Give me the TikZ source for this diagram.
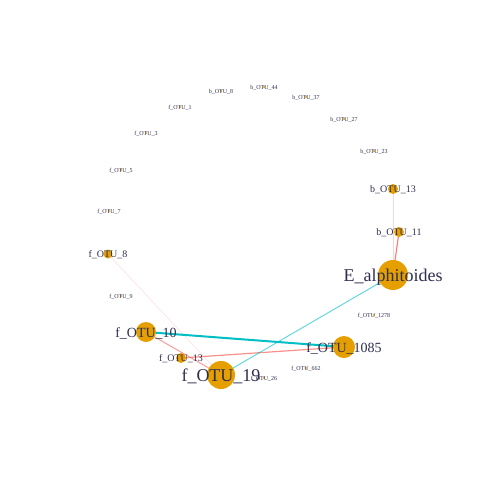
\documentclass[tikz,border=0pt]{standalone}
\usepackage{fontspec}
\setmainfont{Liberation Serif}
\usepackage{tikz}
\usetikzlibrary{backgrounds}
\definecolor{otufill}{RGB}{230,159,0}
\definecolor{posedge}{RGB}{248,118,109}
\definecolor{negedge}{RGB}{0,191,196}
\definecolor{otutext}{RGB}{46,46,80}
\tikzset{
  otu/.style={circle, fill=otufill, inner sep=0pt, minimum size=#1},
  lbl/.style={text=otutext, inner sep=0pt, anchor=base, yshift={-0.38pt*#1}, font=\fontsize{#1}{#1}\selectfont},
  pos/.style={draw=posedge, line width=#1},
  neg/.style={draw=negedge, line width=#1}
}
\begin{document}
\begin{tikzpicture}[x=1pt, y=-1pt]
	\useasboundingbox (0,0) rectangle (480,480);
	% small OTUs, no links
	\foreach \n/\px/\py/\t in {bOTU8/221/91/b\_OTU\_8, bOTU44/264/87/b\_OTU\_44, bOTU37/306/97/b\_OTU\_37,
		fOTU1/180/107/f\_OTU\_1, bOTU27/344/119/b\_OTU\_27, fOTU3/146/133/f\_OTU\_3,
		bOTU23/374/151/b\_OTU\_23, fOTU5/121/170/f\_OTU\_5, fOTU7/109/211/f\_OTU\_7,
		fOTU9/121/296/f\_OTU\_9, fOTU1278/374/315/f\_OTU\_1278, fOTU662/306/368/f\_OTU\_662,
		fOTU26/264/378/f\_OTU\_26}{
		\node[otu=2.4pt] (\n) at (\px,\py) {};
		\node[lbl=6] (l\n) at (\n) {\t};
	}
	% linked OTUs
	\node[otu=10pt] (bOTU13) at (393,189) {};
	\node[otu=10pt] (bOTU11) at (399,232) {};
	\node[otu=9pt] (fOTU8) at (108,254) {};
	\node[otu=30pt] (Ealph) at (393,275) {};
	\node[otu=20pt] (fOTU10) at (146,332) {};
	\node[otu=22pt] (fOTU1085) at (344,347) {};
	\node[otu=10pt] (fOTU13) at (181,358) {};
	\node[otu=28pt] (fOTU19) at (221,375) {};
	% links
	\begin{scope}[on background layer]
		\draw[pos=0.5pt, draw opacity=0.25] (fOTU8.center) -- (fOTU19.center);
		\draw[pos=1pt, draw opacity=0.3] (bOTU13.center) -- (Ealph.center);
		\draw[pos=1.2pt, draw opacity=0.9] (bOTU11.center) -- (Ealph.center);
		\draw[pos=1pt, draw opacity=0.7] (fOTU10.center) -- (fOTU19.center);
		\draw[pos=1.2pt, draw opacity=0.8] (fOTU13.center) -- (fOTU1085.center);
		\draw[neg=1pt, draw opacity=0.6] (Ealph.center) -- (fOTU19.center);
		\draw[neg=2pt] (fOTU10.center) -- (fOTU1085.center);
	\end{scope}
	% labels
	\node[lbl=10] (lbOTU13) at (bOTU13) {b\_OTU\_13};
	\node[lbl=10] (lbOTU11) at (bOTU11) {b\_OTU\_11};
	\node[lbl=10] (lfOTU8) at (fOTU8) {f\_OTU\_8};
	\node[lbl=18] (lEalph) at (Ealph) {E\_alphitoides};
	\node[lbl=14] (lfOTU10) at (fOTU10) {f\_OTU\_10};
	\node[lbl=14] (lfOTU1085) at (fOTU1085) {f\_OTU\_1085};
	\node[lbl=10] (lfOTU13) at (fOTU13) {f\_OTU\_13};
	\node[lbl=18] (lfOTU19) at (fOTU19) {f\_OTU\_19};
\end{tikzpicture}
\end{document}
